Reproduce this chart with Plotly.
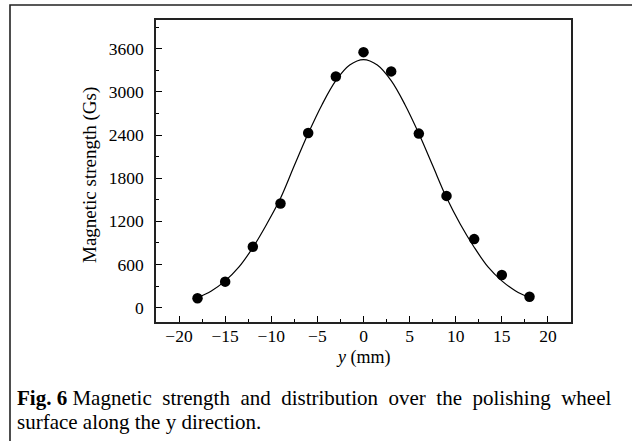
import plotly.graph_objects as go

# measured points
y_pos = [-18, -15, -12, -9, -6, -3, 0, 3, 6, 9, 12, 15, 18]
strength = [130, 361, 847, 1449, 2429, 3215, 3553, 3285, 2420, 1554, 953, 454, 150]

# fitted curve
fit_x = [-18, -16.5, -15, -13.5, -12, -10.5, -9, -7.5, -6, -4.5, -3, -1.5, 0,
         1.5, 3, 4.5, 6, 7.5, 9, 10.5, 12, 13.5, 15, 16.5, 18]
fit_y = [139, 232, 372, 566, 835, 1160, 1520, 1975, 2420, 2822, 3156, 3374, 3450,
         3374, 3156, 2822, 2420, 1975, 1530, 1160, 840, 566, 372, 232, 139]

x_ticks = [-20, -15, -10, -5, 0, 5, 10, 15, 20]
x_tick_text = ["\u221220", "\u221215", "\u221210", "\u22125", "0", "5", "10", "15", "20"]
y_ticks = [0, 600, 1200, 1800, 2400, 3000, 3600]

FONT = "Liberation Serif"

fig = go.Figure()
fig.add_trace(go.Scatter(x=fit_x, y=fit_y, mode="lines", line=dict(color="black", width=1.2, shape="spline"),
                         hoverinfo="skip", showlegend=False))
fig.add_trace(go.Scatter(x=y_pos, y=strength, mode="markers", marker=dict(color="black", size=10.5),
                         showlegend=False))

axis_common = dict(showline=True, linecolor="#222", linewidth=1.6, mirror=True, showgrid=False,
                   zeroline=False, ticks="inside", ticklen=6, tickwidth=1, tickcolor="black",
                   tickfont=dict(family=FONT, size=17.5, color="black"))

fig.update_xaxes(range=[-22.5, 22.5], tickvals=x_ticks, ticktext=x_tick_text, ticklabelstandoff=-3,
                 minor=dict(ticks="inside", ticklen=3, tickwidth=1, tickcolor="black", dtick=2.5,
                            tick0=-22.5),
                 **axis_common)
fig.update_yaxes(range=[-200, 4000], tickvals=y_ticks, ticklabelstandoff=7,
                 minor=dict(ticks="inside", ticklen=3, tickwidth=1, tickcolor="black", dtick=300,
                            tick0=0),
                 **axis_common)

L, R, T, B = 156, 61, 20, 119
W, H = 632, 441
pw, ph = W - L - R, H - T - B

def px(x):
    return (x - L) / pw

def py(y):
    return (H - B - y) / ph

sp = "\u00a0\u00a0"
annotations = [
    dict(text="Magnetic strength (Gs)", x=px(90), y=py(175), textangle=-90,
         font=dict(family=FONT, size=19, color="black")),
    dict(text="<i>y</i> (mm)", x=px(363), y=py(357),
         font=dict(family=FONT, size=18, color="black")),
    dict(text="<b>Fig. 6</b> Magnetic" + sp + "strength" + sp + "and" + sp + "distribution" + sp + "over"
         + sp + "the" + sp + "polishing" + sp + "wheel",
         x=px(15), y=py(398), xanchor="left",
         font=dict(family=FONT, size=21, color="black")),
    dict(text="surface along the y direction.", x=px(15), y=py(422), xanchor="left",
         font=dict(family=FONT, size=21, color="black")),
]
for a in annotations:
    a.update(xref="paper", yref="paper", showarrow=False)
    a.setdefault("xanchor", "center")
    a.setdefault("yanchor", "middle")

fig.update_layout(
    width=W, height=H, margin=dict(l=L, r=R, t=T, b=B),
    paper_bgcolor="white", plot_bgcolor="white",
    annotations=annotations,
    shapes=[dict(type="rect", xref="paper", yref="paper",
                 x0=px(10), x1=px(634), y0=py(445), y1=py(5),
                 line=dict(color="#222", width=1.6), layer="below")],
)

fig.write_html("out.html", config={"displayModeBar": False},
               post_script="document.body.style.margin='0';document.body.style.overflow='hidden';")
